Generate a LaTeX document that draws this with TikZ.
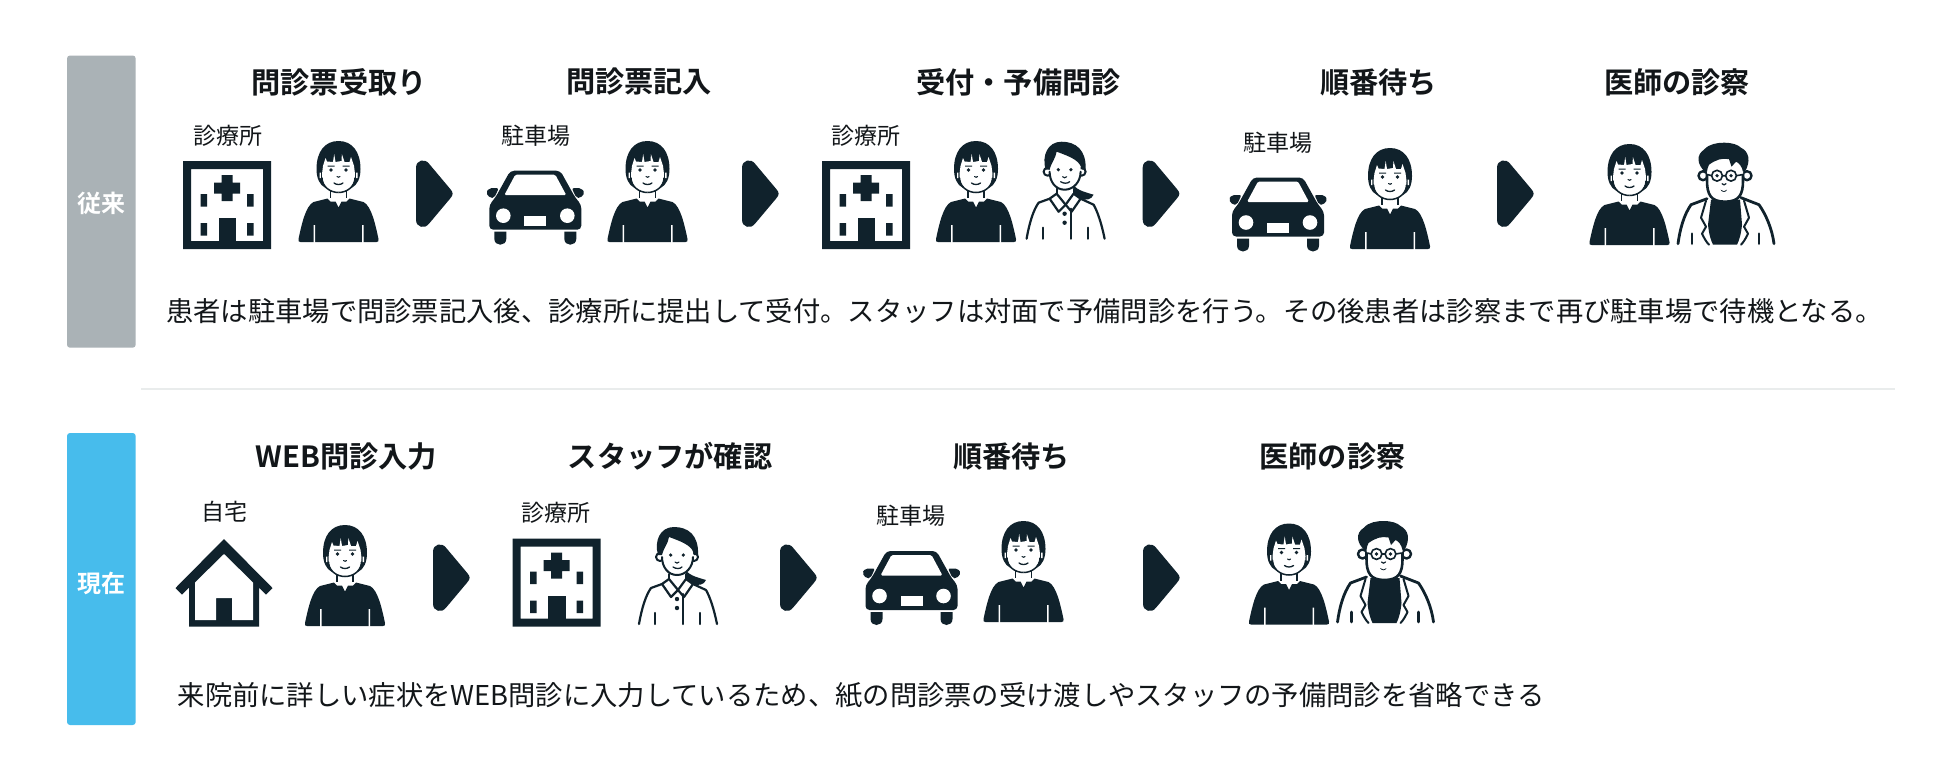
\documentclass[tikz,border=0pt]{standalone}
\usepackage{fontspec}
\setmainfont{Noto Sans CJK JP}[BoldFont={Noto Sans CJK JP Bold}]
\definecolor{ink}{HTML}{10222C}
\definecolor{barGray}{HTML}{AAB2B6}
\definecolor{barBlue}{HTML}{47BCEC}
\definecolor{ruleGray}{HTML}{E9ECEC}
\definecolor{txt}{HTML}{121619}
\tikzset{
  x=1pt,y=-1pt,
  steptitle/.style={font=\bfseries\fontsize{29.2}{29.2}\selectfont,text=txt,inner sep=0pt,anchor=center},
  place/.style={font=\fontsize{23}{23}\selectfont,text=txt,inner sep=0pt,anchor=center},
  note/.style={font=\fontsize{27.3}{27.3}\selectfont,text=txt,inner sep=0pt,anchor=west},
  sidebar/.style={font=\bfseries\fontsize{24}{24}\selectfont,text=white,inner sep=0pt,anchor=center},
  line/.style={draw=ink,line width=2.4pt,line cap=round,line join=round},
  patient/.pic={
    \fill[ink] (0,0) .. controls (14,0) and (22,11) .. (22,28) .. controls (22,37) and (19,44) .. (13,47) -- (-13,47) .. controls (-19,44) and (-22,37) .. (-22,28) .. controls (-22,11) and (-14,0) .. (0,0) -- cycle;
    \fill[white] (-8,45) -- (8,45) -- (8,59) -- (-8,59) -- cycle;
    \fill[white] (0,51.5) .. controls (-9,51.5) and (-16.5,45) .. (-16.5,33) -- (-15.5,25) -- (-13,17) -- (-11.5,20.5) -- (-5.5,21) -- (-4.3,13) -- (-3,21) -- (3,20) -- (3.4,13) -- (6,21) -- (11,21) -- (12.5,16) -- (15.5,25) -- (16.5,33) .. controls (16.5,45) and (9,51.5) .. (0,51.5) -- cycle;
    \fill[ink] (-7.5,29) circle (1.9) (7.5,29) circle (1.9);
    \fill[ink] (-11,24.6) rectangle (-4,25.5) (4,24.6) rectangle (11,25.5);
    \draw[ink,line width=1.1pt,line cap=round] (-1.5,35.5) .. controls (-.5,36.5) and (.5,36.5) .. (1.5,35.5);
    \draw[ink,line width=1.3pt,line cap=round] (-4.5,42) .. controls (-2,44) and (2,44) .. (4.5,42);
    \draw[ink,line width=1.5pt] (0,51.5) .. controls (-9,51.5) and (-16.5,45) .. (-16.5,37);
    \draw[ink,line width=1.5pt] (0,51.5) .. controls (9,51.5) and (16.5,45) .. (16.5,37);
    \draw[ink,line width=1.5pt] (-8,49) -- (-8,57) (8,49) -- (8,57);
    \fill[white] (-19,31.5) rectangle (-17.6,37) (17.6,31.5) rectangle (19,37);
    \fill[ink] (-11,57.5) -- (-8,60.5) -- (-3,60.5) -- (0,66.5) -- (3,60.5) -- (8,60.5) -- (11,57.5) -- (25,61) .. controls (33,65) and (37,84) .. (40,98) .. controls (40.5,100) and (40,101) .. (38,101) -- (-38,101) .. controls (-40,101) and (-40.5,100) .. (-40,98) .. controls (-37,84) and (-33,65) .. (-25,61) -- cycle;
    \fill[white] (-25,84) rectangle (-23.5,102) (23.5,84) rectangle (25,102);
  },
  staff/.pic={
    \fill[ink] (6,40) .. controls (9,48) and (18,50) .. (28,53) .. controls (26,58) and (20,59) .. (14,57) .. controls (10,55) and (8,52) .. (4,48) -- cycle;
    \filldraw[line,fill=white,line width=2pt] (-18,30) circle (4) (16,30) circle (4);
    \fill[white] (-9,46) rectangle (8,56);
    \draw[line,line width=2pt] (-9,47) -- (-9,52) (8,47) -- (8,52);
    \fill[white] (-1,48) .. controls (-10,48) and (-16,40) .. (-16,30) -- (-16,6) -- (15,6) -- (15,30) .. controls (15,40) and (8,48) .. (-1,48) -- cycle;
    \draw[line,line width=2pt] (-16,30) .. controls (-16,40) and (-10,48) .. (-1,48) .. controls (8,48) and (15,40) .. (15,30);
    \fill[ink] (-20,28) .. controls (-24,14) and (-18,0) .. (-4,0) .. controls (10,0) and (21,8) .. (20,28) -- (16,28) .. controls (15,20) and (8,16) .. (-9,10) .. controls (-10,17) and (-14,20) .. (-16,28) -- cycle;
    \fill[ink] (-7.3,28) circle (1.8) (5.3,28) circle (1.8);
    \draw[ink,line width=1.1pt,line cap=round] (-3,35) .. controls (-2,36.5) and (0,36.5) .. (1,35);
    \draw[ink,line width=1.3pt,line cap=round] (-5,40) .. controls (-2,42) and (2,42) .. (4,40);
    \draw[line,line width=2.2pt] (-16,57) -- (-27,61) .. controls (-32,68) and (-36,80) .. (-39,97);
    \draw[line,line width=2.2pt] (15,57) -- (28,63) .. controls (32,70) and (36,82) .. (39,97);
    \filldraw[line,fill=white,line width=2.2pt] (-9,52) -- (-16,57) -- (-7,70) -- (0,63) -- cycle;
    \filldraw[line,fill=white,line width=2.2pt] (8,52) -- (15,57) -- (6,70) -- (0,63) -- cycle;
    \draw[line,line width=2.2pt] (5,67) -- (5,97) (-23,86) -- (-23,97) (22,86) -- (22,97);
    \fill[ink] (-1,72) circle (2.2) (-1,81) circle (2.2);
  },
  doctor/.pic={
    \fill[ink] (-15,57) -- (14,57) -- (16,82) .. controls (15,92) and (13,98) .. (11,102) -- (-13,102) .. controls (-15,98) and (-17,92) .. (-18,82) -- cycle;
    \filldraw[line,fill=white] (-23,33) circle (4.5) (21,33) circle (4.5);
    \fill[white] (-1,59) .. controls (-15,59) and (-19,52) .. (-19,38) -- (-19,8) -- (17,8) -- (17,38) .. controls (17,52) and (13,59) .. (-1,59) -- cycle;
    \draw[line,line width=2.6pt] (-19,32) -- (-19,38) .. controls (-19,52) and (-15,59) .. (-1,59) .. controls (13,59) and (17,52) .. (17,38) -- (17,32);
    \fill[ink] (-21,29) .. controls (-29,22) and (-30,12) .. (-22,7) .. controls (-17,1) and (-8,0) .. (-2,0) .. controls (6,0) and (12,2) .. (15,5) .. controls (23,9) and (25,18) .. (19,29) -- (17,29) .. controls (16,24) and (13,20) .. (10,19) -- (5.5,24) -- (3,16.5) .. controls (-4,15) and (-10,17) .. (-17,22) .. controls (-18,24) and (-19,27) .. (-19,29) -- cycle;
    \draw[ink,line width=1.6pt] (-9,33) circle (5.4) (5,33) circle (5.4) (-3.6,33) -- (-.4,33) (-14.4,33) -- (-18,32) (10.4,33) -- (16,32);
    \fill[ink] (-9,33) circle (1.8) (5,33) circle (1.8);
    \draw[ink,line width=1.2pt,line cap=round] (-4,41) .. controls (-3,42.5) and (-1,42.5) .. (0,41);
    \fill[ink] (-5.5,47) .. controls (-3,49) and (-1,49) .. (1,47) .. controls (0,50) and (-4,50) .. (-5.5,47) -- cycle;
    \draw[line,line width=2.8pt] (-19,56) -- (-35,62) .. controls (-42,72) and (-46,86) .. (-48,101);
    \draw[line,line width=2.8pt] (15,55) -- (33,62) .. controls (40,72) and (46,86) .. (48,101);
    \draw[line,line width=2pt] (-20,58) -- (-25,75) -- (-20,84) -- (-24,91) .. controls (-22,95) and (-20,99) .. (-17,102);
    \draw[line,line width=2pt] (18,58) -- (23,75) -- (18,84) -- (22,91) .. controls (20,95) and (18,99) .. (15,102);
    \draw[line,line width=2.6pt] (-34,91) -- (-34,101) (33,91) -- (33,101);
  },
  hospital/.pic={
    \fill[ink,even odd rule] (0,0) rectangle (88,88) (8,8) rectangle (80,80);
    \fill[ink] (38.5,14) rectangle (49.5,40) (31,21.5) rectangle (57,32.5);
    \fill[ink] (17.5,33) rectangle (24,45.5) (64,33) rectangle (70.5,45.5) (17.5,62) rectangle (24,74.5) (64,62) rectangle (70.5,74.5);
    \fill[ink] (35.5,57) rectangle (53,80);
  },
  car/.pic={
    \fill[ink,rounded corners=4pt] (-25,0) -- (25,0) -- (40,27) -- (46,34) -- (46,59) -- (-46,59) -- (-46,34) -- (-40,27) -- cycle;
    \fill[white,rounded corners=1.5pt] (-20,4) -- (20,4) -- (31,24.5) -- (-31,24.5) -- cycle;
    \fill[ink,rounded corners=2pt] (-36.5,17.5) -- (-46,17.5) -- (-49.5,22) -- (-45,27.5) -- (-41,27) -- cycle;
    \fill[ink,rounded corners=2pt] (36.5,17.5) -- (46,17.5) -- (49.5,22) -- (45,27.5) -- (41,27) -- cycle;
    \fill[white] (-32,45) circle (7.3) (32,45) circle (7.3);
    \fill[white] (-11,45) rectangle (11,55);
    \fill[ink] (-41,61) -- (-41,68) .. controls (-41,76) and (-29,76) .. (-29,68) -- (-29,61) -- cycle;
    \fill[ink] (29,61) -- (29,68) .. controls (29,76) and (41,76) .. (41,68) -- (41,61) -- cycle;
  },
  house/.pic={
    \fill[ink] (0,0) -- (48.5,49) -- (42,55.7) -- (35,48.5) -- (35,87.5) -- (-35,87.5) -- (-35,48.5) -- (-42,55.7) -- (-48.5,49) -- cycle;
    \fill[white] (0,15) -- (29,43.5) -- (29,81) -- (8,81) -- (8,59) -- (-8,59) -- (-8,81) -- (-29,81) -- (-29,43.5) -- cycle;
  },
  chevron/.pic={
    \fill[ink] (0,7) .. controls (0,-1) and (9,-2.5) .. (13,3) -- (34,28) .. controls (37.5,32) and (37.5,34) .. (34,38) -- (13,63) .. controls (9,68.5) and (0,67) .. (0,59) -- cycle;
  }
}
\begin{document}
\begin{tikzpicture}
\useasboundingbox (0,0) rectangle (1950,780);
\fill[white] (0,0) rectangle (1950,780);
% side bars
\fill[barGray,rounded corners=3pt] (67,55.5) rectangle (135.7,347.7);
\fill[barBlue,rounded corners=3pt] (67,433) rectangle (135.7,725);
\node[sidebar] (sideOld) at (101.5,203) {従来};
\node[sidebar] (sideNew) at (101.5,583.5) {現在};
\draw[ruleGray,line width=1.2pt] (141,389) -- (1895,389);
% row 1 titles
\node[steptitle] (t1) at (339,82) {問診票受取り};
\node[steptitle] (t2) at (639,82) {問診票記入};
\node[steptitle] (t3) at (1018.5,82) {受付・予備問診};
\node[steptitle] (t4) at (1378.5,82) {順番待ち};
\node[steptitle] (t5) at (1677,82) {医師の診察};
\node[place] (l1) at (227.5,135.5) {診療所};
\node[place] (l2) at (535.5,135.5) {駐車場};
\node[place] (l3) at (866,135.5) {診療所};
\node[place] (l4) at (1278,143) {駐車場};
\pic at (183,161) {hospital};
\pic at (338.5,141) {patient};
\pic at (416,160.7) {chevron};
\pic at (535.3,170.7) {car};
\pic at (647.5,141) {patient};
\pic at (742,160.7) {chevron};
\pic at (822,161) {hospital};
\pic at (976,141) {patient};
\pic at (1065.6,141.7) {staff};
\pic at (1142.7,160.7) {chevron};
\pic at (1278,177.5) {car};
\pic at (1390,148) {patient};
\pic at (1497,160.7) {chevron};
\pic at (1629.5,144) {patient};
\pic at (1726,142.7) {doctor};
\node[note] (n1) at (166,311) {患者は駐車場で問診票記入後、診療所に提出して受付。スタッフは対面で予備問診を行う。その後患者は診察まで再び駐車場で待機となる。};
% row 2
\node[steptitle] (u1) at (346.5,456.5) {WEB問診入力};
\node[steptitle] (u2) at (670,456.5) {スタッフが確認};
\node[steptitle] (u3) at (1011.5,456.5) {順番待ち};
\node[steptitle] (u4) at (1332.5,456.5) {医師の診察};
\node[place] (m1) at (224,512) {自宅};
\node[place] (m2) at (556,512.5) {診療所};
\node[place] (m3) at (911,516) {駐車場};
\pic at (224,539) {house};
\pic at (345,525) {patient};
\pic at (433,544.7) {chevron};
\pic at (512.5,538.7) {hospital};
\pic at (678,527) {staff};
\pic at (780,544.7) {chevron};
\pic at (911.5,551) {car};
\pic at (1023.5,521) {patient};
\pic at (1143,544.7) {chevron};
\pic at (1289,523.5) {patient};
\pic at (1385.5,521) {doctor};
\node[note] (n2) at (177.5,695) {来院前に詳しい症状をWEB問診に入力しているため、紙の問診票の受け渡しやスタッフの予備問診を省略できる};
\end{tikzpicture}
\end{document}
